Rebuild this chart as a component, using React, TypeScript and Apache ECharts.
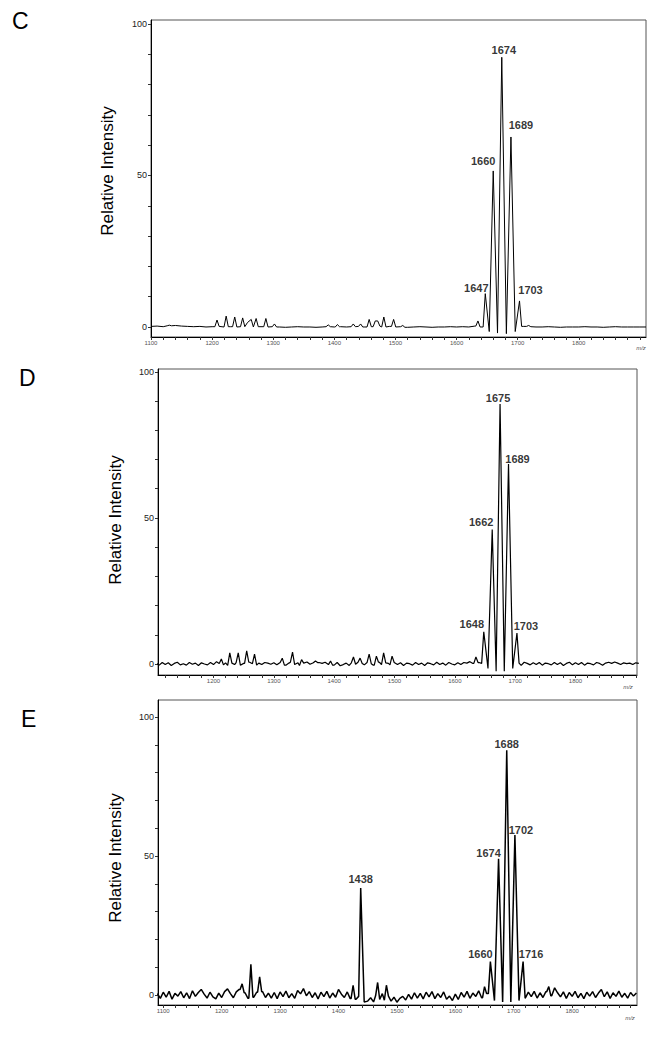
import React, { useEffect, useRef } from "react";
import * as echarts from "echarts";

// ---------- Panel C ----------
const peaksC: number[][] = [
  [1130, 0.6], [1208, 2.3], [1223, 3.6], [1237, 3.3], [1250, 3.0], [1258, 1.5], [1264, 2.5],
  [1272, 2.8], [1288, 2.8], [1302, 1.0], [1390, 0.7], [1405, 0.8], [1431, 1.0], [1443, 1.0],
  [1457, 2.5], [1467, 2.0], [1471, 2.0], [1481, 3.3], [1497, 2.5], [1512, 0.5], [1635, 2.0],
  [1647, 11], [1660, 51.5], [1674, 89], [1689, 62.7], [1703, 8.6], [1718, 0.5],
];
const valleysC: number[][] = [[1653.5, -1.5], [1667, -2.0], [1681.5, -2.2], [1696, -1.5]];
const baseStartC = 1100;
const baseStepC = 10;
const baselineC: number[] = [
  0.2, 0.3, 0.1, 0.4, 0.5, 0.3, 0.2, 0.1, 0.2, 0,
  0.1, 0.2, 0, 0.1, 0, 0.1, -0.1, 0, 0.1, 0,
  0.1, 0, -0.1, 0, 0.1, 0, 0, -0.1, 0, 0.1,
  0, 0.1, 0, 0.1, 0.2, 0, 0.1, 0.3, 0, 0.2,
  0, 0.1, -0.1, 0, 0.1, 0, -0.1, 0, 0, 0.1,
  0, 0.1, 0, 0.3, 0, 0, 0, 0, 0, 0,
  0, 0.2, 0.1, 0, 0, 0.1, 0, -0.1, 0, 0,
  0, 0.1, 0, 0, -0.1, 0, 0.1, 0, 0, 0,
  0, 0,
];
const labeledC = ["1647", "1660", "1674", "1689", "1703"];

// ---------- Panel D ----------
const peaksD: number[][] = [
  [1213, 1.7], [1227, 3.8], [1241, 3.8], [1255, 4.5], [1268, 3.4], [1314, 2.0], [1331, 4.1],
  [1346, 1.5], [1369, 1.0], [1394, 1.0], [1432, 2.4], [1443, 2.0], [1458, 3.4], [1470, 2.7],
  [1482, 3.8], [1496, 2.7], [1635, 2.4],
  [1648, 11], [1662, 46], [1675, 89], [1689, 68.5], [1703, 10.6],
];
const valleysD: number[][] = [[1655, -1.5], [1668.5, -2.5], [1682, -2.5], [1696, -1.5]];
const baseStartD = 1105;
const baseStepD = 5;
const baselineD: number[] = [
  0.3, -0.4, 0.5, -0.2, 0.4, -0.5, 0.2, 0.6, -0.3, 0.1, -0.4, 0.5, -0.1, 0.3, -0.5, 0.4, 0, -0.3, 0.5, -0.2,
  0.8, 0.2, -0.3, 0.4, -0.5, 0.3, -0.2, 0.5, -0.4, 0.2, -0.3, 0.6, 0.1, -0.4, 0.3, -0.2, 0.5, 0.3, -0.1, 0.4,
  -0.3, 0.5, 0.2, -0.4, 0.3, 0.6, -0.2, 0.4, -0.5, 0.3, 0.7, -0.1, 0.4, -0.3, 0.5, 0.2, 0.6, -0.2, 0.3, -0.4,
  0.5, -0.6, -0.2, 0.3, -0.5, 0.4, -0.1, 0.6, 0.2, -0.3, 0.5, 0.1, -0.4, 0.3, 0.6, -0.2, 0.4, 0.2, -0.3, 0.5,
  -0.2, 0.4, -0.5, 0.3, 0.1, -0.4, 0.5, -0.2, 0.3, -0.5, 0.4, 0.1, -0.3, 0.6, -0.2, 0.3, -0.4, 0.5, 0, -0.3,
  0.4, -0.2, 0.5, 0.3, 0.8, 0.2, -0.3, 0.5, 0.2, -0.4, 0.6, 0.1, -0.5, 0.3, -0.2, 0.4, -0.3, 0.5, 0.2, -0.4,
  0.3, -0.5, 0.6, 0.2, -0.3, 0.4, -0.2, 0.5, -0.4, 0.3, 0.1, -0.3, 0.5, -0.2, 0.4, -0.5, 0.2, 0.6, -0.3, 0.4,
  -0.2, 0.5, -0.4, 0.3, 0.1, -0.3, 0.5, 0.2, -0.4, 0.3, 0.6, 0.2, 0.7, 0.3, -0.2, 0.4, 0.1, 0.3, -0.2, 0.4,
  0.2,
];
const labeledD = ["1648", "1662", "1675", "1689", "1703"];

// ---------- Panel E ----------
const peaksE: number[][] = [
  [1235, 4.0], [1250, 11], [1265, 6.5], [1425, 3.5], [1438, 38.5], [1467, 4.5], [1482, 3.5],
  [1650, 3.0], [1660, 12], [1674, 49], [1688, 88], [1702, 57.5], [1716, 12], [1760, 3.0],
];
const valleysE: number[][] = [[1444, -2.5], [1667, -2.0], [1681, -2.5], [1695, -2.5], [1709, -2.0]];
const baseStartE = 1090;
const baseStepE = 5;
const baselineE: number[] = [
  0.5, -1.2, 1.0, -0.8, 1.3, -1.5, 0.6, -0.4, 1.2, -1.0, 0.8, -1.3, 1.5, -0.5, 0.9, 2.0, 0.3, -1.1, 1.0, -0.7,
  -1.4, 0.7, -0.9, 1.2, 2.2, 0.5, -1.0, 1.1, 2.0, -0.6, 0.8, -1.2, 0.6, -0.8, 1.0, -0.5, 1.2, -0.9, 0.7, -1.1,
  0.9, -1.3, 1.1, -0.6, 1.4, -1.0, 0.5, -1.2, 1.6, 0.4, 2.3, -0.3, 1.2, -0.9, 0.8, -1.4, 1.0, -0.6, 1.3, -1.1,
  0.7, -0.8, 2.0, 0.3, -0.9, 1.1, -1.3, 0.8, -1.5, -0.5, 0, -1.8, -2.2, -1.0, -2.5, -0.3, -1.6, 0.5, -1.9, -0.4,
  -2.2, -0.8, -2.6, -1.2, -0.5, -1.8, 0.2, -1.5, 0.8, -1.1, 0.6, -1.4, 1.0, -0.7, 1.2, -1.3, 0.5, -0.9, 1.1, -1.5,
  -0.4, -2.0, 0.3, -1.6, 0.9, -0.8, 1.3, -1.2, 0.7, -0.5, 1.5, -1.0, 2.0, 0.5, 0, -1.0, 0, 0, 0, 0,
  0, 0, 0, 0, -1.0, 0.4, -1.2, 1.0, -0.6, 1.3, -1.1, 0.8, -0.9, 1.2, 1.8, -0.3, 2.6, 0.8, -0.7, 1.1,
  -1.2, 0.9, -0.5, 1.3, -1.0, 0.6, -1.3, 1.0, -0.4, 1.2, -0.9, 0.7, 2.0, -0.6, 1.1, -1.2, 0.8, -0.5, 1.4, -0.8,
  0.6, -1.1, 0.9, -0.4, 0.7,
];
const labeledE = ["1438", "1660", "1674", "1688", "1702", "1716"];

// ---------- Axes ----------
const xTickLabels = [1100, 1200, 1300, 1400, 1500, 1600, 1700, 1800];
const yTickLabels = [0, 50, 100];

// ---------- helpers ----------
function buildTrace(start: number, step: number, baseline: number[], peaks: number[][], valleys: number[][]) {
  const marks = [...peaks, ...valleys];
  const pts: number[][] = [];
  baseline.forEach((v, i) => {
    const x = start + i * step;
    if (marks.some(([m]) => Math.abs(m - x) < 4.5)) return;
    pts.push([x, v]);
  });
  const nearest = (x: number) =>
    baseline[Math.max(0, Math.min(baseline.length - 1, Math.round((x - start) / step)))];
  const hw = 3.5;
  peaks.forEach(([m, h]) => {
    pts.push([m, h]);
    const hasLeft = marks.some(([o]) => o < m && m - o < 8);
    const hasRight = marks.some(([o]) => o > m && o - m < 8);
    if (!hasLeft) pts.push([m - hw, nearest(m - hw)]);
    if (!hasRight) pts.push([m + hw, nearest(m + hw)]);
  });
  valleys.forEach((v) => pts.push(v));
  pts.sort((a, b) => a[0] - b[0]);
  return pts;
}

function labelData(labels: string[], peaks: number[][], offsets: Record<string, number[]>) {
  return labels.map((name) => {
    const p = peaks.find(([m]) => String(m) === name)!;
    return { name, value: [p[0], p[1]], label: { offset: offsets[name] || [0, 0] } };
  });
}

const offC: Record<string, number[]> = { "1647": [-9, 0], "1660": [-10, -4], "1674": [2, -2], "1689": [10, -6], "1703": [11, -5] };
const offD: Record<string, number[]> = { "1648": [-12, -2], "1662": [-11, -2], "1675": [-2, -1], "1689": [9, 1], "1703": [9, -2] };
const offE: Record<string, number[]> = { "1438": [0, -3], "1660": [-10, -2], "1674": [-10, 0], "1688": [0, -1], "1702": [6, 0], "1716": [8, -2] };

const grids = [
  { left: 151, top: 20, width: 495, height: 317, xmin: 1100, xmax: 1910, ymin: -3.3, ymax: 101.3 },
  { left: 158, top: 369, width: 479, height: 306, xmin: 1108, xmax: 1902, ymin: -3.77, ymax: 101.0 },
  { left: 158, top: 700, width: 479, height: 305, xmin: 1091, xmax: 1911, ymin: -3.6, ymax: 106.1 },
];
const lineWidths = [1, 1.2, 1.5];

export default function App() {
  const ref = useRef<HTMLDivElement>(null);
  useEffect(() => {
    if (!ref.current) return;
    const chart = echarts.init(ref.current, null, { renderer: "svg" });

    const minorTicks: number[] = [];
    for (let v = 1100; v <= 1900; v += 20) minorTicks.push(v);
    const yTicks: number[] = [];
    for (let v = 0; v <= 100; v += 10) yTicks.push(v);

    const traces = [
      buildTrace(baseStartC, baseStepC, baselineC, peaksC, valleysC),
      buildTrace(baseStartD, baseStepD, baselineD, peaksD, valleysD),
      buildTrace(baseStartE, baseStepE, baselineE, peaksE, valleysE),
    ];
    const labels = [
      labelData(labeledC, peaksC, offC),
      labelData(labeledD, peaksD, offD),
      labelData(labeledE, peaksE, offE),
    ];

    const font = "Arial, 'Liberation Sans', sans-serif";

    const option: any = {
      animation: false,
      backgroundColor: "#fff",
      grid: grids.map((g) => ({
        left: g.left, top: g.top, width: g.width, height: g.height,
        show: true, borderColor: "#555", borderWidth: 1, backgroundColor: "transparent",
      })),
      xAxis: grids.map((g, i) => ({
        gridIndex: i, type: "value", min: g.xmin, max: g.xmax,
        axisLine: { show: true, onZero: false, lineStyle: { color: "#000", width: 1 } },
        axisTick: { show: true, customValues: minorTicks.filter((v) => v >= g.xmin && v <= g.xmax), length: 3, lineStyle: { color: "#333" } },
        axisLabel: {
          customValues: xTickLabels.filter((v) => v >= g.xmin && v <= g.xmax),
          fontSize: 6, color: "#555", margin: 3, fontFamily: font,
          formatter: (v: number) => String(v),
        },
        splitLine: { show: false },
      })),
      yAxis: grids.map((g, i) => ({
        gridIndex: i, type: "value", min: g.ymin, max: g.ymax,
        axisLine: { show: true, onZero: false, lineStyle: { color: "#000", width: 1 } },
        axisTick: { show: true, customValues: yTicks, length: 3, lineStyle: { color: "#333" } },
        axisLabel: { customValues: yTickLabels, fontSize: 9, color: "#222", margin: 4, fontFamily: font, formatter: (v: number) => String(v) },
        splitLine: { show: false },
      })),
      series: [
        ...traces.map((t, i) => ({
          type: "line", xAxisIndex: i, yAxisIndex: i, data: t, showSymbol: false, symbol: "none",
          lineStyle: { color: "#000", width: lineWidths[i] }, silent: true, z: 2,
        })),
        ...labels.map((l, i) => ({
          type: "scatter", xAxisIndex: i, yAxisIndex: i, data: l, symbolSize: 0, silent: true, z: 3,
          label: {
            show: true, position: "top", distance: 0, formatter: (p: any) => p.name,
            fontSize: 11, fontWeight: "bold", color: "#000", fontFamily: font,
          },
        })),
      ],
      graphic: [
        { type: "text", left: 12, top: 9, style: { text: "C", fontSize: 23, fill: "#000", fontFamily: font } },
        { type: "text", left: 19, top: 366, style: { text: "D", fontSize: 23, fill: "#000", fontFamily: font } },
        { type: "text", left: 21, top: 707, style: { text: "E", fontSize: 23, fill: "#000", fontFamily: font } },
        { type: "text", x: 107, y: 171, rotation: Math.PI / 2, style: { text: "Relative Intensity", fontSize: 17, fill: "#000", fontFamily: font, align: "center", verticalAlign: "middle" } },
        { type: "text", x: 115, y: 520, rotation: Math.PI / 2, style: { text: "Relative Intensity", fontSize: 17, fill: "#000", fontFamily: font, align: "center", verticalAlign: "middle" } },
        { type: "text", x: 115, y: 858, rotation: Math.PI / 2, style: { text: "Relative Intensity", fontSize: 17, fill: "#000", fontFamily: font, align: "center", verticalAlign: "middle" } },
        { type: "text", x: 641, y: 348, style: { text: "m/z", fontSize: 6, fontStyle: "italic", fill: "#555", fontFamily: font, align: "center", verticalAlign: "middle" } },
        { type: "text", x: 628, y: 687, style: { text: "m/z", fontSize: 6, fontStyle: "italic", fill: "#555", fontFamily: font, align: "center", verticalAlign: "middle" } },
        { type: "text", x: 630, y: 1018, style: { text: "m/z", fontSize: 6, fontStyle: "italic", fill: "#555", fontFamily: font, align: "center", verticalAlign: "middle" } },
      ],
    };
    chart.setOption(option);
    return () => chart.dispose();
  }, []);
  return (
    <div
      ref={ref}
      style={{ position: "fixed", left: 0, top: 0, width: 660, height: 1037, background: "#fff" }}
    />
  );
}
